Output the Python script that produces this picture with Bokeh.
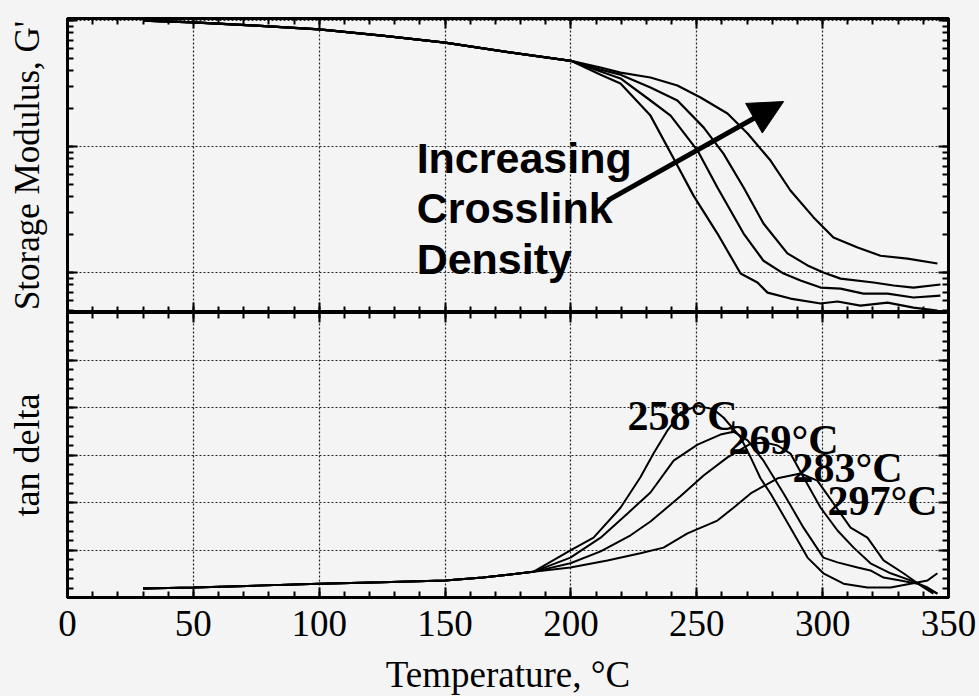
from bokeh.plotting import figure
from bokeh.layouts import column
from bokeh.models import (LinearAxis, LogAxis, Label, Arrow, NormalHead, Range1d,
                          SingleIntervalTicker, LogTicker)
from bokeh.embed import file_html
from bokeh.resources import INLINE

# ---------------- data ----------------
# Storage modulus G' (arbitrary MPa scale, log axis)
g_temp_common = [30, 50, 75, 100, 125, 150, 175, 200]
g_common = [1000, 966, 912, 851, 759, 668, 562, 479]

g_temp_258 = [211.8, 219.7, 231.6, 240.8, 248.7, 258.2, 267.4, 274.1, 278.1, 287.2, 299.2, 305.9, 315.0, 325.8, 336.1, 345.6]
g_258 = [372, 316, 176, 80.4, 40.8, 20.4, 9.82, 8.34, 6.93, 6.22, 5.68, 5.89, 5.47, 5.78, 5.27, 4.99]

g_temp_269 = [211.8, 219.7, 231.6, 239.6, 250.3, 258.2, 268.6, 276.5, 284.5, 291.2, 299.2, 307.1, 316.2, 325.8, 336.1, 346.8]
g_269 = [394, 347, 232, 176, 92.9, 47.3, 20.4, 12.4, 9.82, 8.65, 7.60, 7.46, 6.81, 6.81, 6.34, 6.56]

g_temp_283 = [211.8, 219.7, 231.6, 242.3, 252.7, 260.6, 268.6, 276.5, 286.0, 294.0, 300.3, 307.1, 320.2, 328.2, 336.1, 346.8]
g_283 = [408, 372, 294, 232, 142, 87.9, 47.3, 24.5, 14.2, 11.4, 10.0, 8.95, 8.34, 7.89, 7.60, 8.04]

g_temp_297 = [211.8, 219.7, 231.6, 242.3, 251.5, 262.2, 270.2, 279.3, 287.2, 296.4, 304.3, 313.9, 323.0, 333.7, 345.6]
g_297 = [424, 386, 353, 305, 245, 183, 127, 77.4, 44.8, 27.4, 19.0, 15.8, 13.6, 12.9, 11.8]

# tan delta
td_temp_common = [30, 50, 75, 100, 125, 150, 165, 175, 185]
td_common = [0.019, 0.021, 0.025, 0.029, 0.032, 0.036, 0.042, 0.048, 0.054]

td_temp_258 = [199.8, 209.0, 219.7, 227.6, 232.8, 238.4, 243.5, 250.3, 256.6, 260.6, 267.4, 271.4, 275.3, 279.3, 287.2, 294.0, 300.3, 308.3, 317.8, 327.0, 334.9, 341.7, 345.6]
td_258 = [0.099, 0.126, 0.189, 0.253, 0.303, 0.352, 0.389, 0.404, 0.396, 0.379, 0.337, 0.295, 0.251, 0.219, 0.147, 0.084, 0.051, 0.029, 0.021, 0.021, 0.029, 0.036, 0.051]

td_temp_269 = [199.8, 211.8, 222.5, 231.6, 240.8, 250.3, 259.4, 264.6, 270.2, 276.5, 284.5, 292.4, 300.3, 305.9, 313.9, 319.0, 324.2, 330.9, 337.7, 342.9, 345.6]
td_269 = [0.084, 0.126, 0.177, 0.221, 0.288, 0.322, 0.343, 0.349, 0.331, 0.288, 0.219, 0.147, 0.084, 0.074, 0.063, 0.057, 0.042, 0.036, 0.029, 0.015, 0.008]

td_temp_283 = [199.8, 211.8, 223.7, 231.6, 243.5, 252.7, 262.2, 271.4, 277.3, 282.1, 287.2, 292.4, 299.2, 305.9, 312.3, 319.0, 327.0, 334.9, 341.7, 345.6]
td_283 = [0.072, 0.097, 0.131, 0.160, 0.213, 0.257, 0.295, 0.324, 0.326, 0.320, 0.303, 0.253, 0.189, 0.141, 0.105, 0.072, 0.051, 0.036, 0.021, 0.008]

td_temp_297 = [199.8, 214.5, 227.6, 236.8, 246.3, 258.2, 264.6, 271.4, 282.1, 291.2, 297.9, 304.3, 311.1, 317.8, 324.2, 332.1, 340.1, 344.0]
td_297 = [0.063, 0.078, 0.093, 0.105, 0.135, 0.162, 0.189, 0.219, 0.251, 0.261, 0.246, 0.198, 0.147, 0.126, 0.078, 0.051, 0.021, 0.008]

peak_labels = ["258°C", "269°C", "283°C", "297°C"]
peak_label_x = [222.5, 262.6, 288.0, 301.9]
peak_label_y = [0.383, 0.331, 0.272, 0.204]

note_lines = ["Increasing", "Crosslink", "Density"]
note_x = 138.7
note_y = [81.8, 32.8, 12.9]
arrow_start = (214.5, 37.2)
arrow_end = (284.5, 227.5)

x_ticks_interval = 50
# ---------------------------------------------------------------

BG = "#f4f4f4"
SERIF = "Liberation Serif"

xr = Range1d(0, 350)


def style_axis(ax, labels=False):
    ax.axis_line_width = 3
    ax.axis_line_color = "black"
    ax.major_tick_in = 10
    ax.major_tick_out = 0
    ax.minor_tick_in = 6
    ax.minor_tick_out = 0
    ax.major_tick_line_width = 2
    ax.minor_tick_line_width = 2
    ax.major_tick_line_color = "black"
    ax.minor_tick_line_color = "black"
    ax.axis_label_text_color = "black"
    if labels:
        ax.major_label_text_color = "black"
    else:
        ax.major_label_text_font_size = "1px"
        ax.major_label_text_color = None
        ax.major_label_standoff = 0


def base_fig(**kw):
    p = figure(x_range=xr, frame_width=881, output_backend="svg", toolbar_location=None,
               min_border_left=67, min_border_right=30, background_fill_color=BG,
               border_fill_color=BG, **kw)
    p.outline_line_color = "black"
    p.outline_line_width = 3
    return p


# ---------- upper panel: storage modulus ----------
p1 = base_fig(y_axis_type="log", y_range=Range1d(4.82, 1038), frame_height=294,
              min_border_top=18, min_border_bottom=0)
xt = SingleIntervalTicker(interval=x_ticks_interval, num_minor_ticks=5)
ylt = LogTicker(num_minor_ticks=10)
p1.xaxis.ticker = xt
p1.yaxis.ticker = ylt
for ax in p1.xaxis:
    style_axis(ax)
for ax in p1.yaxis:
    style_axis(ax)
p1.yaxis.axis_label = "Storage Modulus, G'"
p1.yaxis.axis_label_text_font = SERIF
p1.yaxis.axis_label_text_font_style = "normal"
p1.yaxis.axis_label_text_font_size = "35px"
p1.yaxis.axis_label_standoff = 21
top_ax = LinearAxis(ticker=xt)
style_axis(top_ax)
p1.add_layout(top_ax, "above")
right_ax = LogAxis(ticker=ylt)
style_axis(right_ax)
p1.add_layout(right_ax, "right")
p1.xgrid.ticker = xt
p1.ygrid.ticker = ylt
for g in (p1.xgrid, p1.ygrid):
    g.grid_line_color = "black"
    g.grid_line_dash = "2 2"
    g.grid_line_width = 1.2
    g.grid_line_alpha = 0.85
p1.ygrid.minor_grid_line_color = None

for tt, gg in [(g_temp_258, g_258), (g_temp_269, g_269), (g_temp_283, g_283), (g_temp_297, g_297)]:
    p1.line(g_temp_common + tt, g_common + gg, line_color="black", line_width=2.2)

for txt, yy in zip(note_lines, note_y):
    p1.add_layout(Label(x=note_x, y=yy, text=txt, text_font="Liberation Sans",
                        text_font_style="bold", text_font_size="43px", text_color="black",
                        text_baseline="alphabetic"))
p1.add_layout(Arrow(x_start=arrow_start[0], y_start=arrow_start[1], x_end=arrow_end[0],
                    y_end=arrow_end[1], line_width=5, line_color="black",
                    end=NormalHead(size=34, fill_color="black", line_color="black")))

# ---------- lower panel: tan delta ----------
p2 = base_fig(y_range=Range1d(0, 0.6), frame_height=285, min_border_top=0, min_border_bottom=10)
ytt = SingleIntervalTicker(interval=0.1, num_minor_ticks=5)
p2.xaxis.ticker = xt
p2.yaxis.ticker = ytt
for ax in p2.xaxis:
    style_axis(ax, labels=True)
    ax.major_label_text_font = SERIF
    ax.major_label_text_font_size = "37px"
    ax.major_label_standoff = 13
    ax.axis_label = "Temperature, °C"
    ax.axis_label_text_font = SERIF
    ax.axis_label_text_font_style = "normal"
    ax.axis_label_text_font_size = "37px"
    ax.axis_label_standoff = 15
for ax in p2.yaxis:
    style_axis(ax)
p2.yaxis.axis_label = "tan delta"
p2.yaxis.axis_label_text_font = SERIF
p2.yaxis.axis_label_text_font_style = "normal"
p2.yaxis.axis_label_text_font_size = "36px"
p2.yaxis.axis_label_standoff = 21
top_ax2 = LinearAxis(ticker=xt)
style_axis(top_ax2)
p2.add_layout(top_ax2, "above")
right_ax2 = LinearAxis(ticker=ytt)
style_axis(right_ax2)
p2.add_layout(right_ax2, "right")
p2.xgrid.ticker = xt
p2.ygrid.ticker = ytt
for g in (p2.xgrid, p2.ygrid):
    g.grid_line_color = "black"
    g.grid_line_dash = "2 2"
    g.grid_line_width = 1.2
    g.grid_line_alpha = 0.85

for tt, vv in [(td_temp_258, td_258), (td_temp_269, td_269), (td_temp_283, td_283), (td_temp_297, td_297)]:
    p2.line(td_temp_common + tt, td_common + vv, line_color="black", line_width=2)

for txt, xx, yy in zip(peak_labels, peak_label_x, peak_label_y):
    p2.add_layout(Label(x=xx, y=yy, text=txt, text_font=SERIF, text_font_style="bold",
                        text_font_size="42px", text_color="black", text_baseline="alphabetic"))

layout = column(p1, p2, spacing=0)
html = file_html(layout, INLINE)
html = html.replace("<body>", '<body style="background:#f4f4f4">')
open("out.html", "w").write(html)
